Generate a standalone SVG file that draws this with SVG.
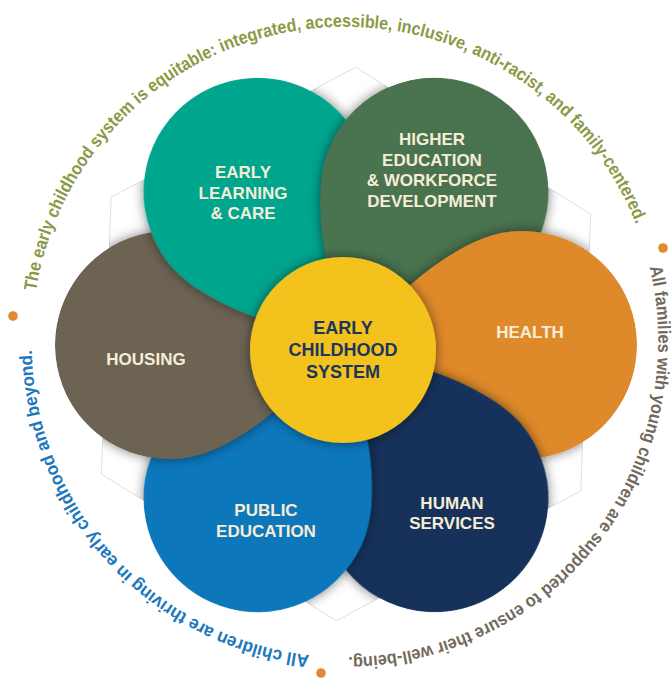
<svg xmlns="http://www.w3.org/2000/svg" xmlns:xlink="http://www.w3.org/1999/xlink" width="672" height="679" viewBox="0 0 672 679">
<defs>
<style>
.lbl{font-family:"Liberation Sans",Arial,sans-serif;font-weight:bold;font-size:17px;fill:#F5EDD6;text-anchor:middle}
.ctr{font-family:"Liberation Sans",Arial,sans-serif;font-weight:bold;font-size:18px;fill:#1B365D;text-anchor:middle}
.ring{font-family:"Liberation Sans Narrow","Liberation Sans",Arial,sans-serif;font-weight:bold;font-size:18px}
.dot{fill:#E08B2E}
</style>
<path id="pt" d="M490.6 235.7 A114 114 0 1 1 424.3 402 L380 320 L395 300 C415 278 457 246 490.6 235.7 Z"/>
<path id="ringPath" d="M33.2 314.7 A313 313 0 1 1 656.8 369.3 A313 313 0 1 1 33.2 314.7" fill="none"/>
<filter id="sh" x="-30%" y="-30%" width="160%" height="160%">
<feDropShadow dx="0" dy="0" stdDeviation="6" flood-color="#000" flood-opacity="0.5"/>
</filter>
<filter id="blur" x="-30%" y="-30%" width="160%" height="160%">
<feGaussianBlur stdDeviation="6"/>
</filter>
<clipPath id="cu">
<polygon points="355.7,67.2 590.6,214 580.9,490.8 336.3,620.8 101.4,474 111.1,197.2"/>
<use href="#pt"/>
<use href="#pt" transform="rotate(60 346 345)"/>
<use href="#pt" transform="rotate(120 346 345)"/>
<use href="#pt" transform="rotate(180 346 345)"/>
<use href="#pt" transform="rotate(-120 346 345)"/>
<use href="#pt" transform="rotate(-60 346 345)"/>
</clipPath>
<clipPath id="cTeal"><use href="#pt" transform="rotate(-120 346 345)"/></clipPath>
<clipPath id="cW"><polygon points="346,345 -102,306 -102,-80 500,-80"/></clipPath>
</defs>

<rect width="672" height="679" fill="#ffffff"/>

<g id="backdrop">
<polygon points="355.7,67.2 590.6,214 580.9,490.8 336.3,620.8 101.4,474 111.1,197.2" fill="#ffffff" stroke="#d6d6d6" stroke-width="0.8"/>
</g>

<g id="petals" clip-path="url(#cu)">
<g id="higher-education">
<use href="#pt" transform="rotate(-60 346 345)" fill="#4A7350" filter="url(#sh)"/>
</g>
<g id="health">
<use href="#pt" fill="#DF8A2C" filter="url(#sh)"/>
<text class="lbl" x="530" y="338">HEALTH</text>
</g>
<g id="human-services">
<use href="#pt" transform="rotate(60 346 345)" fill="#17335A" filter="url(#sh)"/>
<text class="lbl" x="452" y="509">HUMAN</text>
<text class="lbl" x="452" y="529">SERVICES</text>
</g>
<g id="public-education">
<use href="#pt" transform="rotate(120 346 345)" fill="#1177BB" filter="url(#sh)"/>
<text class="lbl" x="266" y="516">PUBLIC</text>
<text class="lbl" x="266" y="537">EDUCATION</text>
</g>
<g id="housing">
<use href="#pt" transform="rotate(180 346 345)" fill="#6C6353" filter="url(#sh)"/>
<text class="lbl" x="146" y="365">HOUSING</text>
</g>
<g id="early-learning">
<use href="#pt" transform="rotate(-120 346 345)" fill="#00A58E" filter="url(#sh)"/>
<text class="lbl" x="243" y="178">EARLY</text>
<text class="lbl" x="243" y="199">LEARNING</text>
<text class="lbl" x="243" y="219">&amp; CARE</text>
</g>
<g id="higher-education-top">
<g clip-path="url(#cTeal)">
<use href="#pt" transform="rotate(-60 346 345)" fill="#000" opacity="0.5" filter="url(#blur)"/>
</g>
<g clip-path="url(#cW)">
<use href="#pt" transform="rotate(-60 346 345)" fill="#4A7350"/>
</g>
<text class="lbl" x="432" y="145">HIGHER</text>
<text class="lbl" x="432" y="166">EDUCATION</text>
<text class="lbl" x="432" y="186">&amp; WORKFORCE</text>
<text class="lbl" x="432" y="207">DEVELOPMENT</text>
</g>
</g>

<g id="early-childhood-system">
<circle cx="343" cy="350" r="93" fill="#F4C21C" filter="url(#sh)"/>
<text class="ctr" x="343" y="334">EARLY</text>
<text class="ctr" x="343" y="356">CHILDHOOD</text>
<text class="ctr" x="343" y="378">SYSTEM</text>
</g>

<g id="connectors"></g>

<g id="ring-text">
<text class="ring" fill="#8A9A45"><textPath href="#ringPath" startOffset="23.5" textLength="816" lengthAdjust="spacingAndGlyphs">The early childhood system is equitable: integrated, accessible, inclusive, anti-racist, and family-centered.</textPath></text>
<text class="ring" fill="#726A5C"><textPath href="#ringPath" startOffset="884" textLength="566" lengthAdjust="spacingAndGlyphs">All families with young children are supported to ensure their well-being.</textPath></text>
<text class="ring" fill="#1C78BE"><textPath href="#ringPath" startOffset="1489" textLength="450" lengthAdjust="spacingAndGlyphs">All children are thriving in early childhood and beyond.</textPath></text>
<circle class="dot" cx="13" cy="316" r="4.8"/>
<circle class="dot" cx="663" cy="248" r="4.8"/>
<circle class="dot" cx="321" cy="673" r="4.8"/>
</g>
</svg>
